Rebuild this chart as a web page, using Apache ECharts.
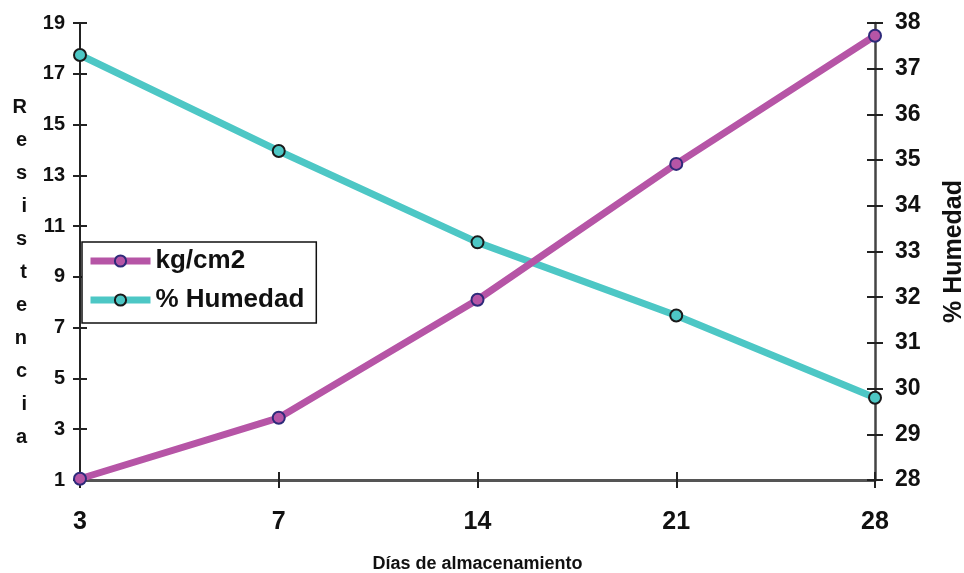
<!DOCTYPE html>
<html>
<head>
<meta charset="utf-8">
<script src="https://cdn.jsdelivr.net/npm/echarts@6/dist/echarts.min.js"></script>
<style>
  html, body { margin: 0; padding: 0; background: #fff; }
  #chart { width: 964px; height: 573px; }
</style>
</head>
<body>
<div id="chart"></div>
<script>
// Storage days on the x axis
const dias = ['3', '7', '14', '21', '28'];
// Resistance (kg/cm2), left axis
const resistencia = [1.05, 3.45, 8.1, 13.45, 18.5];
// Moisture (%), right axis
const humedad = [37.3, 35.2, 33.2, 31.6, 29.8];
// Left axis tick values
const leftTicks = [1, 3, 5, 7, 9, 11, 13, 15, 17, 19];

const FONT = 'Liberation Sans, Arial, sans-serif';
const AXIS_COLOR = '#222';
const MAGENTA = '#B655A6';
const CYAN = '#4DC7C5';

const bold = (size) => ({ fontFamily: FONT, fontWeight: 'bold', fontSize: size, color: '#111' });

// helper: a label-less twin axis that draws ticks on the inner side
function innerTwin(base) {
  return Object.assign({}, base, {
    name: '',
    axisLine: { show: false },
    axisLabel: { show: false },
    axisTick: Object.assign({}, base.axisTick, { inside: true }),
    splitLine: { show: false }
  });
}

const leftAxis = {
  type: 'value', position: 'left', min: 1, max: 19,
  name: '{sp|}\n' + 'Resistencia'.split('').join('\n'),
  nameLocation: 'middle', nameRotate: 0, nameGap: 53,
  nameTextStyle: Object.assign(bold(20), { lineHeight: 33, rich: { sp: { height: 42, lineHeight: 42 } } }),
  axisLine: { show: true, lineStyle: { color: AXIS_COLOR, width: 2 } },
  axisTick: { show: true, length: 7, customValues: leftTicks, lineStyle: { color: AXIS_COLOR, width: 2 } },
  axisLabel: Object.assign({ customValues: leftTicks, margin: 15 }, bold(20)),
  splitLine: { show: false }
};

const rightAxis = {
  type: 'value', position: 'right', min: 28, max: 38, interval: 1,
  name: '% Humedad', nameLocation: 'middle', nameRotate: 90, nameGap: 67,
  nameTextStyle: bold(25),
  axisLine: { show: true, lineStyle: { color: '#444', width: 2.5 } },
  axisTick: { show: true, length: 8, lineStyle: { color: AXIS_COLOR, width: 2 } },
  axisLabel: Object.assign({ margin: 20 }, bold(23)),
  splitLine: { show: false }
};

const bottomAxis = {
  type: 'category', data: dias, boundaryGap: false, position: 'bottom',
  name: 'Días de almacenamiento', nameLocation: 'middle', nameGap: 75,
  nameTextStyle: bold(18),
  axisLine: { show: true, lineStyle: { color: '#555', width: 3 } },
  axisTick: { show: true, length: 8, alignWithLabel: true, lineStyle: { color: AXIS_COLOR, width: 2 } },
  axisLabel: Object.assign({ margin: 30 }, bold(25)),
  splitLine: { show: false }
};

const chart = echarts.init(document.getElementById('chart'), null, { renderer: 'canvas' });
chart.setOption({
  backgroundColor: '#fff',
  animation: false,
  grid: { left: 80, right: 89, top: 23, bottom: 93, containLabel: false, outerBoundsMode: 'none' },
  legend: {
    left: 82, top: 242, orient: 'vertical',
    itemWidth: 60, itemHeight: 14, itemGap: 9,
    padding: [4, 12, 8, 5],
    borderColor: '#111', borderWidth: 1.5, backgroundColor: '#fff',
    lineStyle: { width: 7 },
    textStyle: Object.assign(bold(26), { lineHeight: 30 }),
    data: [
      { name: 'kg/cm2' },
      { name: '% Humedad' }
    ]
  },
  xAxis: [bottomAxis, innerTwin(bottomAxis)],
  yAxis: [leftAxis, rightAxis, innerTwin(leftAxis), innerTwin(rightAxis)],
  series: [
    {
      name: 'kg/cm2', type: 'line', xAxisIndex: 0, yAxisIndex: 0,
      data: resistencia,
      symbol: 'circle', symbolSize: 12,
      lineStyle: { color: MAGENTA, width: 7 },
      itemStyle: { color: MAGENTA, borderColor: '#2E2A7A', borderWidth: 2 },
      z: 3
    },
    {
      name: '% Humedad', type: 'line', xAxisIndex: 0, yAxisIndex: 1,
      data: humedad,
      symbol: 'circle', symbolSize: 12,
      lineStyle: { color: CYAN, width: 7 },
      itemStyle: { color: CYAN, borderColor: '#1a1a1a', borderWidth: 2 },
      z: 2
    }
  ]
});
</script>
</body>
</html>
